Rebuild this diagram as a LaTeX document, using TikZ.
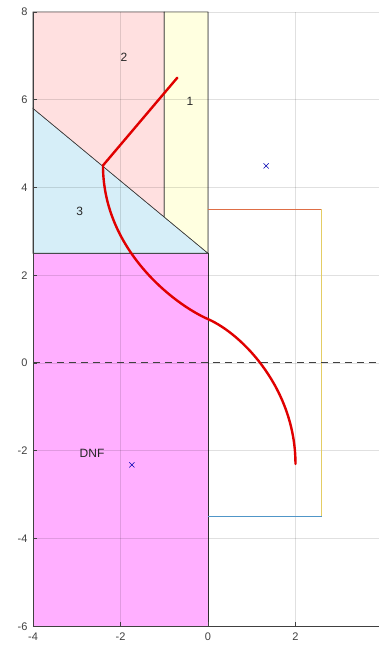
\documentclass[tikz,border=0pt]{standalone}
\usepackage{fontspec}
\setmainfont{Liberation Sans}
\usetikzlibrary{calc}
\definecolor{regdnf}{RGB}{255,175,255}
\definecolor{regthree}{RGB}{214,238,248}
\definecolor{regtwo}{RGB}{255,224,224}
\definecolor{regone}{RGB}{255,255,224}
\definecolor{edgetop}{RGB}{222,110,70}
\definecolor{edgeright}{RGB}{228,205,100}
\definecolor{edgebottom}{RGB}{80,150,200}
\begin{document}
\begin{tikzpicture}[x=43.75pt,y=43.9pt,
  region/.style={draw=black!80,line width=0.6pt},
  gridline/.style={draw=black,opacity=0.12,line width=0.6pt},
  ticklabel/.style={font=\fontsize{11}{13}\selectfont,text=black!75,inner sep=1pt},
  regionlabel/.style={font=\fontsize{12}{14}\selectfont,text=black!85,inner sep=0pt},
  redpath/.style={draw=red!88!black,line width=2.4pt,line cap=round,line join=round},
  crossmark/.style={draw=blue!70!black,line width=0.6pt}]
\useasboundingbox (-4.754,-6.629) rectangle (3.909,8.269);
\fill[white] (-4.754,-6.629) rectangle (3.909,8.269);
% regions
\filldraw[region,fill=regdnf] (-4,-6) rectangle (0,2.5);
\filldraw[region,fill=regthree] (-4,2.5) -- (-4,5.8) -- (0,2.5) -- cycle;
\filldraw[region,fill=regtwo] (-4,5.8) -- (-4,8) -- (-1,8) -- (-1,3.325) -- cycle;
\filldraw[region,fill=regone] (-1,8) -- (0,8) -- (0,2.5) -- (-1,3.325) -- cycle;
% grid
\foreach \gx in {-2,0,2} \draw[gridline] (\gx,-6) -- (\gx,8);
\foreach \gy in {-4,-2,0,2,4,6,8} \draw[gridline] (-4,\gy) -- (3.95,\gy);
% rectangle outline
\draw[edgetop,line width=0.8pt] (0,3.5) -- (2.6,3.5);
\draw[edgeright,line width=0.8pt] (2.6,3.5) -- (2.6,-3.5);
\draw[edgebottom,line width=0.8pt] (0,-3.5) -- (2.6,-3.5);
% dashed zero line
\draw[black!75,line width=1pt,dash pattern=on 7pt off 5pt] (-4,0) -- (3.95,0);
% axes
\draw[black!75,line width=0.7pt] (-4,8) -- (-4,-6) -- (3.95,-6);
\foreach \gy in {-6,-4,-2,0,2,4,6,8} {
  \draw[black!75,line width=0.6pt] (-4,\gy) -- (-3.91,\gy);
  \node[ticklabel,anchor=east] (yl\gy) at (-4.1,\gy) {\gy};
}
\foreach \gx in {-4,-2,0,2} {
  \draw[black!75,line width=0.6pt] (\gx,-6) -- (\gx,-5.91);
  \node[ticklabel,anchor=north] (xl\gx) at (\gx,-6.13) {\gx};
}
% red path
\coordinate (p0) at (-0.7,6.5);
\coordinate (p1) at (-2.4,4.5);
\coordinate (p2) at (0,1);
\coordinate (p3) at (2,-2.3);
\draw[redpath] (p0) -- (p1) .. controls (-2.4,2.6) and (-0.8,1.35) .. (p2)
  .. controls (0.8,0.65) and (2,-0.6) .. (p3);
% crosses
\foreach \cx/\cy/\cn in {1.33/4.49/ca,-1.74/-2.32/cb} {
  \coordinate (\cn) at (\cx,\cy);
  \draw[crossmark] ($(\cn)+(-2.6pt,-2.6pt)$) -- ($(\cn)+(2.6pt,2.6pt)$);
  \draw[crossmark] ($(\cn)+(-2.6pt,2.6pt)$) -- ($(\cn)+(2.6pt,-2.6pt)$);
}
% labels
\node[regionlabel] (l2) at (-1.92,6.97) {2};
\node[regionlabel] (l1) at (-0.41,5.97) {1};
\node[regionlabel] (l3) at (-2.93,3.46) {3};
\node[regionlabel] (ldnf) at (-2.65,-2.05) {DNF};
\end{tikzpicture}
\end{document}
